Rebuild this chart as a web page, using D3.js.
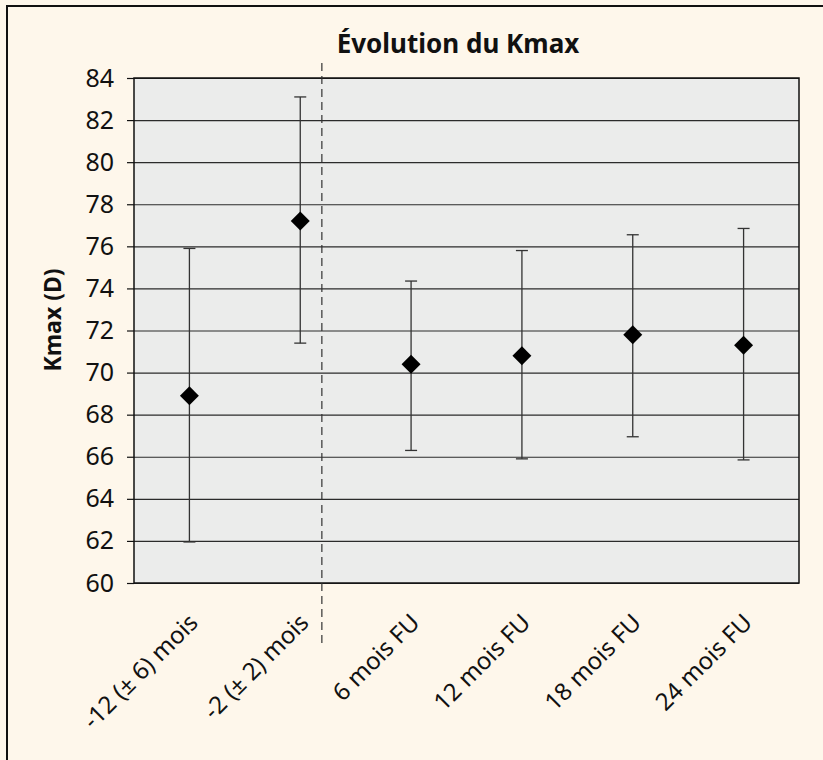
<!DOCTYPE html>
<html>
<head>
<meta charset="utf-8">
<script src="https://cdn.jsdelivr.net/npm/d3@7"></script>
<style>
  html, body { margin: 0; padding: 0; background: #fef7eb; }
  svg { display: block; font-family: "Noto Sans", "Open Sans", sans-serif; }
</style>
</head>
<body>
<script>
(function() {

    // Kmax evolution, mean +/- SD per visit

    var categories = ["-12 (\u00b1 6) mois", "-2 (\u00b1 2) mois", "6 mois FU", "12 mois FU", "18 mois FU", "24 mois FU"];
    var means = [68.9, 77.2, 70.4, 70.8, 71.8, 71.3];
    var upper = [75.9, 83.1, 74.35, 75.8, 76.55, 76.85];
    var lower = [61.95, 71.4, 66.3, 65.9, 66.95, 65.85];
    var yTicks = [60, 62, 64, 66, 68, 70, 72, 74, 76, 78, 80, 82, 84];

    var width = 823,
        height = 760,
        margin = {left: 134, right: 24, top: 78, bottom: 177};

    var x = d3.scaleBand()
        .domain(categories)
        .range([margin.left, width - margin.right])
        .paddingInner(0)
        .paddingOuter(0);

    var y = d3.scaleLinear()
        .domain([60, 84])
        .range([height - margin.bottom, margin.top]);

    var cx = function(i) { return x(categories[i]) + x.bandwidth() / 2; };

    var svg = d3.select("body")
        .append("svg")
        .attr("width", width)
        .attr("height", height);

    // page background + cropped frame (only left and top edges visible)
    svg.append("rect")
        .attr("width", width).attr("height", height)
        .attr("fill", "#fef7eb");
    svg.append("path")
        .attr("d", "M7," + height + "V6H" + width)
        .attr("fill", "none")
        .attr("stroke", "#111")
        .attr("stroke-width", 2);

    // plot background
    svg.append("rect")
        .attr("x", margin.left)
        .attr("y", margin.top)
        .attr("width", width - margin.left - margin.right)
        .attr("height", height - margin.top - margin.bottom)
        .attr("fill", "#ebeceb");

    // gridlines
    svg.append("g")
        .attr("class", "grid")
        .attr("transform", "translate(" + margin.left + ",0)")
        .call(d3.axisLeft(y).tickValues(yTicks).tickSize(-(width - margin.left - margin.right)).tickFormat(""))
        .call(function(g) {
            g.select(".domain").remove();
            g.selectAll("line").attr("stroke", "#2b2b2b").attr("stroke-width", 1.2);
        });

    // y axis with ticks
    svg.append("g")
        .attr("transform", "translate(" + margin.left + ",0)")
        .call(d3.axisLeft(y).tickValues(yTicks).tickSize(7).tickPadding(13))
        .call(function(g) {
            g.select(".domain").remove();
            g.selectAll("line").attr("stroke", "#111").attr("stroke-width", 1.2);
            g.selectAll("text")
                .attr("font-size", 25)
                .attr("fill", "#111")
                .attr("font-family", "'Noto Sans', sans-serif");
        });

    // plot border
    svg.append("rect")
        .attr("x", margin.left)
        .attr("y", margin.top)
        .attr("width", width - margin.left - margin.right)
        .attr("height", height - margin.top - margin.bottom)
        .attr("fill", "none")
        .attr("stroke", "#111")
        .attr("stroke-width", 1.5);

    // dashed divider between pre-op and follow-up
    var divX = cx(1) + x.step() * 0.195;
    svg.append("line")
        .attr("x1", divX).attr("x2", divX)
        .attr("y1", 63).attr("y2", 643)
        .attr("stroke", "#333")
        .attr("stroke-width", 1.2)
        .attr("stroke-dasharray", "8,5");

    // error bars
    var bars = svg.append("g").selectAll("g")
        .data(categories)
        .enter().append("g");

    bars.append("line")
        .attr("x1", function(d, i) { return cx(i); })
        .attr("x2", function(d, i) { return cx(i); })
        .attr("y1", function(d, i) { return y(upper[i]); })
        .attr("y2", function(d, i) { return y(lower[i]); })
        .attr("stroke", "#333")
        .attr("stroke-width", 1.3);

    [upper, lower].forEach(function(arr) {
        bars.append("line")
            .attr("x1", function(d, i) { return cx(i) - 6; })
            .attr("x2", function(d, i) { return cx(i) + 6; })
            .attr("y1", function(d, i) { return y(arr[i]); })
            .attr("y2", function(d, i) { return y(arr[i]); })
            .attr("stroke", "#333")
            .attr("stroke-width", 1.3);
    });

    // diamonds
    var diamond = d3.symbol().type(d3.symbolSquare).size(180);
    bars.append("path")
        .attr("d", diamond)
        .attr("transform", function(d, i) {
            return "translate(" + cx(i) + "," + y(means[i]) + ") rotate(45)";
        })
        .attr("fill", "#000");

    // x labels, rotated
    svg.append("g").selectAll("text")
        .data(categories)
        .enter().append("text")
        .attr("transform", function(d, i) {
            return "translate(" + (cx(i) + 10) + "," + 624 + ") rotate(-45)";
        })
        .attr("text-anchor", "end")
        .attr("font-size", 24)
        .attr("fill", "#111")
        .text(function(d) { return d; });

    // title
    svg.append("text")
        .attr("x", 458)
        .attr("y", 53)
        .attr("text-anchor", "middle")
        .attr("font-size", 26)
        .attr("font-weight", "bold")
        .attr("fill", "#111")
        .text("\u00c9volution du Kmax");

    // y axis title
    svg.append("text")
        .attr("transform", "translate(61,320) rotate(-90)")
        .attr("text-anchor", "middle")
        .attr("font-size", 23)
        .attr("font-weight", "bold")
        .attr("fill", "#111")
        .text("Kmax (D)");

})();
</script>
</body>
</html>
